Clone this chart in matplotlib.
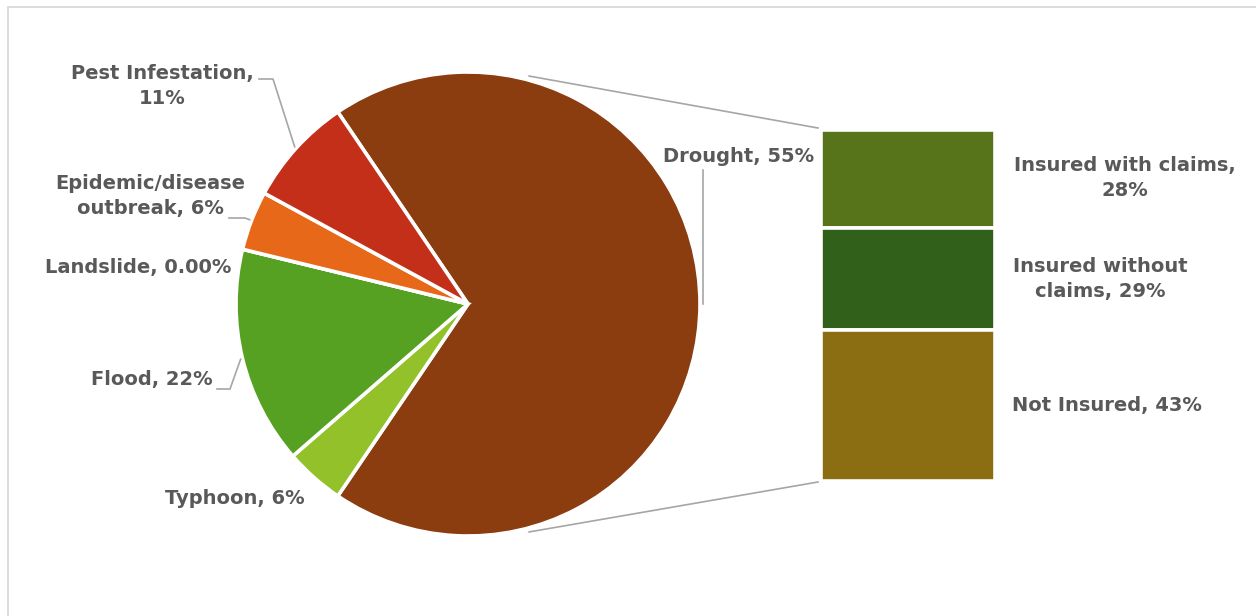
import matplotlib.pyplot as plt
import numpy as np
from matplotlib.patches import Rectangle

# Pie slices, clockwise starting with the slice that is split into the bar
pie_names = ["Drought", "Typhoon", "Flood", "Landslide",
             "Epidemic/disease outbreak", "Pest Infestation"]
other_values = [6, 22, 0, 6, 11]          # Typhoon .. Pest Infestation
pie_labels = ["Drought, 55%", "Typhoon, 6%", "Flood, 22%", "Landslide, 0.00%",
              "Epidemic/disease\noutbreak, 6%", "Pest Infestation,\n11%"]
pie_colors = ["#8B3D0F", "#92C12A", "#56A022", "#4E8A1E", "#E8681A", "#C42F1A"]

# Drought split into the stacked bar (top to bottom)
bar_names = ["Insured with claims", "Insured without claims", "Not Insured"]
bar_values = [28, 29, 43]
bar_labels = ["Insured with claims,\n28%", "Insured without\nclaims, 29%", "Not Insured, 43%"]
bar_colors = ["#58741B", "#31601A", "#8B6E12"]

W, H = 1256, 616
text_color = "#595959"
line_color = "#A6A6A6"
font = dict(family="DejaVu Sans", weight="bold", size=14, color=text_color,
            ha="center", va="center", linespacing=1.45)

fig = plt.figure(figsize=(W / 100, H / 100), dpi=100)
ax = fig.add_axes([0, 0, 1, 1])

# pie
cx, cy, R = 468, H - 304, 232
sizes = [sum(bar_values)] + other_values
start = 360 * sizes[0] / sum(sizes) / 2
wedges, _ = ax.pie(sizes, colors=pie_colors, startangle=start, counterclock=False,
                   center=(cx, cy), radius=R, frame=True,
                   wedgeprops=dict(edgecolor="white", linewidth=2.6))
ax.set_xlim(0, W)
ax.set_ylim(0, H)
ax.axis("off")


def edge_point(wedge, r=R):
    a = np.deg2rad((wedge.theta1 + wedge.theta2) / 2)
    return cx + r * np.cos(a), cy + r * np.sin(a)


# label positions (x, y from top)
label_pos = [(739, 156), (235, 498), (152, 380), (138, 267), (150, 196), (162, 86)]
for txt, (x, y) in zip(pie_labels, label_pos):
    ax.text(x, H - y, txt, **font)

# leader lines
px, py = edge_point(wedges[0], R + 3)
ax.plot([px, px], [H - 170, py], color=line_color, lw=1.2)
leaders = {5: (259, 79, 273), 4: (229, 218, 245), 2: (217, 389, 230)}
for i, (x0, y0, x1) in leaders.items():
    ex, ey = edge_point(wedges[i], R + 2)
    ax.plot([x0, x1, ex], [H - y0, H - y0, ey], color=line_color, lw=1.2)

# stacked bar
bx, btop, bw, bh = 822, 131, 171, 348
bax = fig.add_axes([(bx - 1.5) / W, (H - btop - bh - 1.5) / H, (bw + 3) / W, (bh + 3) / H])
bottoms = np.concatenate([[0], np.cumsum(bar_values)[:-1]])
bax.bar(0, bar_values, bottom=bottoms, width=1, color=bar_colors,
        edgecolor="white", linewidth=2.6)
bax.set_xlim(-0.5, 0.5)
bax.set_ylim(sum(bar_values), 0)
bax.axis("off")

bar_label_pos = [(1125, 178), (1100, 279), (1107, 406)]
for txt, (x, y) in zip(bar_labels, bar_label_pos):
    ax.text(x, H - y, txt, **font)

# connectors from pie to bar
for ang, yb in [(75, btop - 3), (-75, btop + bh + 3)]:
    a = np.deg2rad(ang)
    ax.plot([cx + (R + 4) * np.cos(a), bx - 4], [cy + (R + 4) * np.sin(a), H - yb],
            color=line_color, lw=1.2)

# chart border
ax.add_patch(Rectangle((8, -20), W + 50, H - 7 + 20, fill=False,
                       edgecolor="#D9D9D9", lw=1.3))

fig.savefig("out.png", dpi=100, facecolor="white")
